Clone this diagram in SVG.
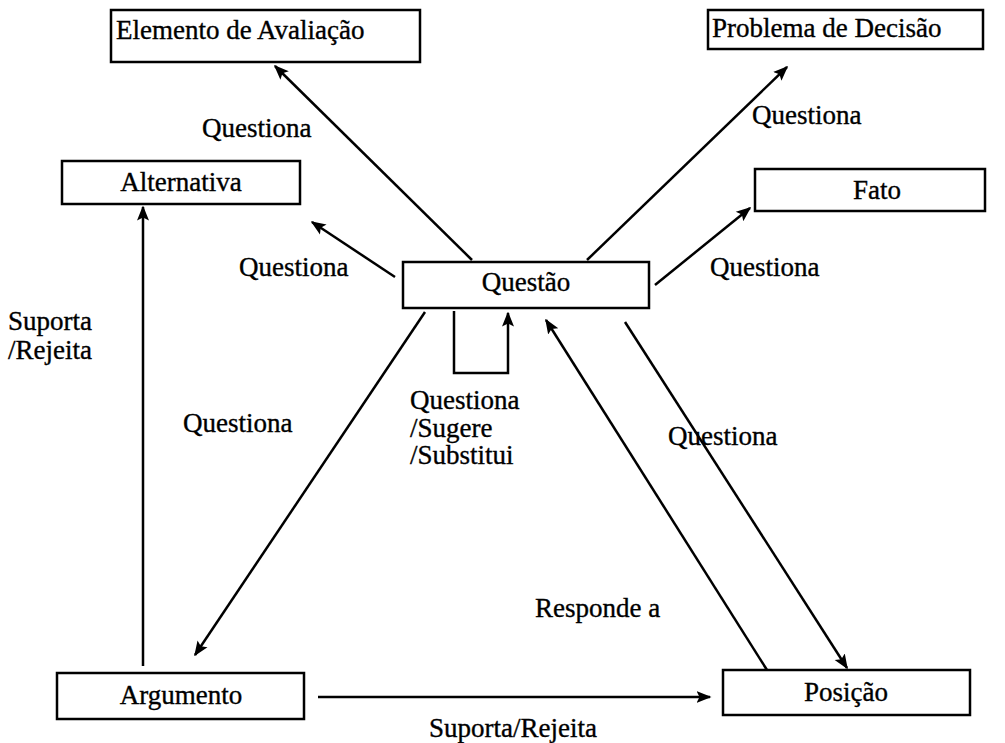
<svg xmlns="http://www.w3.org/2000/svg" width="1005" height="743" viewBox="0 0 1005 743">
  <defs>
    <style>
      .box { fill: #ffffff; stroke: #000000; stroke-width: 2.5; }
      .lbl { font-family: "Liberation Serif", "Times New Roman", serif; font-size: 27px; fill: #000000; stroke: #000000; stroke-width: 0.35; }
      .mid { text-anchor: middle; }
      .edge { fill: none; stroke: #000000; stroke-width: 2.5; marker-end: url(#arrow); }
    </style>
    <marker id="arrow" viewBox="0 0 10 10" refX="9" refY="5" markerWidth="6" markerHeight="6" orient="auto" markerUnits="strokeWidth">
      <path d="M0,1 L10,5 L0,9 L2,5 Z" fill="#000000"/>
    </marker>
  </defs>
  <rect width="1005" height="743" fill="#ffffff"/>

  <!-- nodes -->
  <g id="node-elemento">
    <rect class="box" x="111" y="10" width="309" height="52"/>
    <text class="lbl" x="116" y="39">Elemento de Avaliação</text>
  </g>
  <g id="node-problema">
    <rect class="box" x="708" y="10" width="275" height="39"/>
    <text class="lbl" x="712" y="37">Problema de Decisão</text>
  </g>
  <g id="node-fato">
    <rect class="box" x="755" y="169" width="230" height="42"/>
    <text class="lbl mid" x="877" y="199">Fato</text>
  </g>
  <g id="node-alternativa">
    <rect class="box" x="62" y="161" width="238" height="43"/>
    <text class="lbl mid" x="181" y="191">Alternativa</text>
  </g>
  <g id="node-questao">
    <rect class="box" x="403" y="262" width="246" height="46"/>
    <text class="lbl mid" x="526" y="291">Questão</text>
  </g>
  <g id="node-argumento">
    <rect class="box" x="57" y="673" width="247" height="46"/>
    <text class="lbl mid" x="181" y="704">Argumento</text>
  </g>
  <g id="node-posicao">
    <rect class="box" x="723" y="670" width="247" height="45"/>
    <text class="lbl mid" x="846" y="701">Posição</text>
  </g>

  <!-- connectors -->
  <g id="connectors">
    <line class="edge" x1="472" y1="260" x2="275" y2="66"/>
    <line class="edge" x1="587" y1="260" x2="787" y2="67"/>
    <line class="edge" x1="395" y1="277" x2="312" y2="222"/>
    <line class="edge" x1="655" y1="285" x2="750" y2="208"/>
    <line class="edge" x1="425" y1="312" x2="195" y2="655"/>
    <polyline class="edge" points="454,311 454,373 508,373 508,313"/>
    <line class="edge" x1="767" y1="670" x2="546" y2="320"/>
    <line class="edge" x1="625" y1="322" x2="847" y2="668"/>
    <line class="edge" x1="143" y1="666" x2="143" y2="207"/>
    <line class="edge" x1="318" y1="697" x2="710" y2="697"/>
  </g>

  <!-- connector labels -->
  <g id="labels">
    <text class="lbl" x="202" y="137">Questiona</text>
    <text class="lbl" x="752" y="124">Questiona</text>
    <text class="lbl" x="239" y="276">Questiona</text>
    <text class="lbl" x="710" y="276">Questiona</text>
    <text class="lbl" x="8" y="330">Suporta</text>
    <text class="lbl" x="8" y="359">/Rejeita</text>
    <text class="lbl" x="183" y="432">Questiona</text>
    <text class="lbl" x="410" y="409">Questiona</text>
    <text class="lbl" x="410" y="437">/Sugere</text>
    <text class="lbl" x="410" y="464">/Substitui</text>
    <text class="lbl" x="668" y="445">Questiona</text>
    <text class="lbl" x="535" y="617">Responde a</text>
    <text class="lbl" x="429" y="737">Suporta/Rejeita</text>
  </g>
</svg>
